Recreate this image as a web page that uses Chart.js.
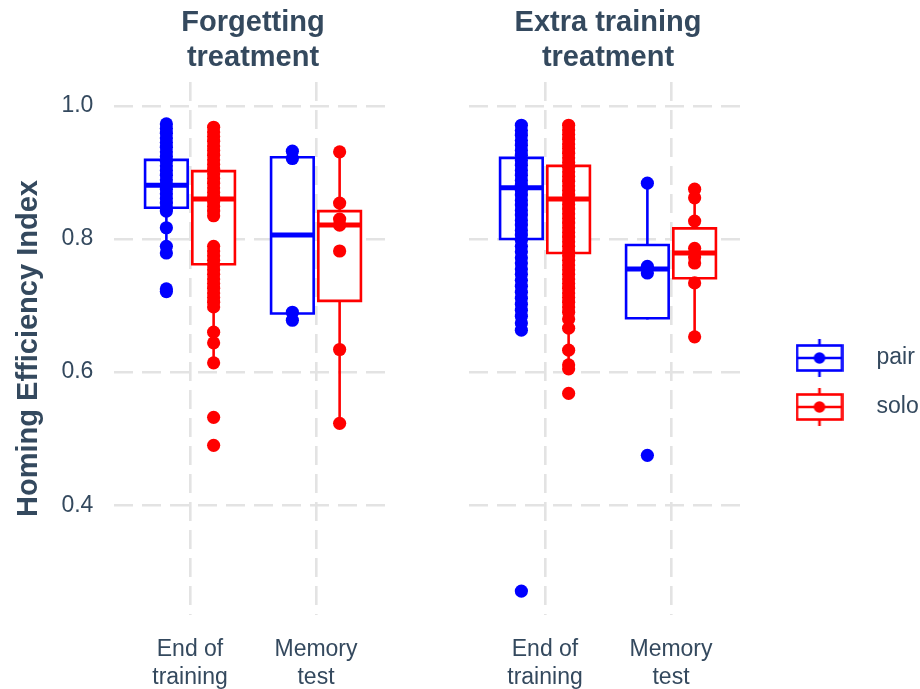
<!DOCTYPE html>
<html>
<head>
<meta charset="utf-8">
<title>Homing Efficiency Index</title>
<script src="https://cdn.jsdelivr.net/npm/chart.js@4.4.1/dist/chart.umd.min.js"></script>
<style>
  html, body { margin: 0; padding: 0; background: #fff; overflow: hidden; }
  #wrap { position: relative; width: 920px; height: 689px; }
  #wrap canvas { position: absolute; }
</style>
</head>
<body>
<div id="wrap">
  <canvas id="chartForget" width="400" height="689" style="left:0;top:0"></canvas>
  <canvas id="chartExtra" width="360" height="689" style="left:400px;top:0"></canvas>
  <canvas id="chartLegend" width="172" height="171" style="left:748px;top:297px"></canvas>
</div>
<script>
// Datos
const panelTitles = [['Forgetting', 'treatment'], ['Extra training', 'treatment']];
const timepoints = [['End of', 'training'], ['Memory', 'test']];
const groups = ['pair', 'solo'];
const yTicks = [0.4, 0.6, 0.8, 1.0];

// [bigote inferior, Q1, mediana, Q3, bigote superior] -> End of training, Memory test
const forgetPairBox = [[0.779, 0.847, 0.881, 0.919, 0.973], [0.678, 0.688, 0.806, 0.923, 0.932]];
const forgetSoloBox = [[0.614, 0.762, 0.860, 0.902, 0.968], [0.523, 0.707, 0.821, 0.842, 0.931]];
const extraPairBox  = [[0.663, 0.800, 0.877, 0.922, 0.971], [0.749, 0.681, 0.755, 0.791, 0.884]];
const extraSoloBox  = [[0.603, 0.779, 0.860, 0.910, 0.971], [0.653, 0.741, 0.779, 0.816, 0.875]];

// puntos individuales
const forgetPairEnd = [0.973, 0.966, 0.959, 0.952, 0.945, 0.938, 0.931, 0.924, 0.917, 0.910, 0.903, 0.896,
  0.889, 0.882, 0.875, 0.868, 0.861, 0.854, 0.847, 0.842, 0.817, 0.789, 0.779, 0.725, 0.721];
const forgetPairMem = [0.932, 0.921, 0.690, 0.678];
const forgetSoloEnd = [0.968, 0.961, 0.954, 0.947, 0.940, 0.933, 0.926, 0.919, 0.912, 0.905, 0.898, 0.891,
  0.884, 0.877, 0.870, 0.863, 0.856, 0.849, 0.842, 0.835, 0.789, 0.782, 0.775, 0.768, 0.761, 0.754, 0.747,
  0.740, 0.733, 0.726, 0.719, 0.712, 0.705, 0.698, 0.660, 0.644, 0.614, 0.532, 0.490];
const forgetSoloMem = [0.931, 0.854, 0.830, 0.821, 0.782, 0.634, 0.523];
const extraPairEnd = [0.971, 0.963, 0.956, 0.948, 0.941, 0.933, 0.926, 0.918, 0.911, 0.903, 0.896, 0.888,
  0.881, 0.873, 0.866, 0.858, 0.851, 0.843, 0.836, 0.828, 0.821, 0.813, 0.806, 0.798, 0.789, 0.781, 0.772,
  0.764, 0.755, 0.747, 0.738, 0.729, 0.720, 0.711, 0.702, 0.693, 0.684, 0.674, 0.663, 0.271];
const extraPairMem = [0.884, 0.759, 0.749, 0.475];
const extraSoloEnd = [0.971, 0.964, 0.957, 0.950, 0.943, 0.936, 0.929, 0.922, 0.915, 0.908, 0.901, 0.894,
  0.887, 0.880, 0.873, 0.866, 0.859, 0.852, 0.845, 0.838, 0.831, 0.824, 0.817, 0.810, 0.803, 0.796, 0.789,
  0.782, 0.775, 0.768, 0.761, 0.754, 0.747, 0.740, 0.733, 0.726, 0.719, 0.712, 0.705, 0.698, 0.690, 0.680,
  0.666, 0.633, 0.611, 0.605, 0.568];
const extraSoloMem = [0.875, 0.862, 0.827, 0.786, 0.773, 0.764, 0.734, 0.653];

const groupColors = ['#0000ff', '#ff0000'];
const textColor = '#34495e';
const gridColor = '#e3e3e3';
const dodge = 0.1875;
const halfBox = 0.169;

Chart.defaults.font.family = '"Liberation Sans", Arial, sans-serif';
Chart.defaults.color = textColor;

function lineSet(points, color, width, order) {
  return {
    data: points,
    showLine: true,
    borderColor: color,
    borderWidth: width,
    borderCapStyle: 'square',
    borderJoinStyle: 'miter',
    pointRadius: 0,
    pointHoverRadius: 0,
    fill: false,
    order: order
  };
}

// cajas, bigotes, medianas y puntos de un grupo
function groupDatasets(boxes, points, g) {
  const color = groupColors[g];
  const out = [];
  boxes.forEach((b, t) => {
    const cx = t + 1 + (g === 0 ? -dodge : dodge);
    const [lo, q1, med, q3, hi] = b;
    const l = cx - halfBox, r = cx + halfBox;
    out.push(lineSet([{x: cx, y: lo}, {x: cx, y: q1}], color, 2.6, 4));
    out.push(lineSet([{x: cx, y: q3}, {x: cx, y: hi}], color, 2.6, 4));
    const box = lineSet([{x: l, y: q1}, {x: r, y: q1}, {x: r, y: q3}, {x: l, y: q3}, {x: l, y: q1}], color, 2.6, 3);
    box.fill = 'shape';
    box.backgroundColor = '#ffffff';
    out.push(box);
    const medLine = lineSet([{x: l, y: med}, {x: r, y: med}], color, 5, 2);
    medLine.borderCapStyle = 'butt';
    out.push(medLine);
    out.push({
      data: points[t].map(v => ({x: cx, y: v})),
      showLine: false,
      pointRadius: 6.6,
      pointHoverRadius: 6.6,
      pointBorderWidth: 0,
      pointBackgroundColor: color,
      borderColor: color,
      order: 0
    });
  });
  return out;
}

function panelChart(id, title, pairBox, pairPts, soloBox, soloPts, withYAxis) {
  const ctx = document.getElementById(id).getContext('2d');
  return new Chart(ctx, {
    type: 'line',
    data: {
      datasets: groupDatasets(pairBox, pairPts, 0).concat(groupDatasets(soloBox, soloPts, 1))
    },
    options: {
      responsive: false,
      animation: false,
      events: [],
      layout: {
        padding: withYAxis ? {left: 0, right: 8.4, top: 0, bottom: 0}
                           : {left: 69.4, right: 13.4, top: 0, bottom: 0}
      },
      plugins: {
        legend: {display: false},
        tooltip: {enabled: false},
        title: {
          display: true,
          text: title,
          fullSize: false,
          color: textColor,
          font: {size: 29, weight: 'bold', lineHeight: 1.2},
          padding: {top: 6, bottom: 6.4}
        }
      },
      scales: {
        x: {
          type: 'linear',
          min: 0.4,
          max: 2.6,
          afterBuildTicks: s => { s.ticks = timepoints.map((_, i) => ({value: i + 1})); },
          afterFit: s => { s.height = 74; },
          ticks: {
            callback: v => timepoints[v - 1],
            color: textColor,
            font: {size: 23, lineHeight: 1.22},
            padding: 21,
            maxRotation: 0,
            autoSkip: false
          },
          grid: {color: gridColor, lineWidth: 2.6, drawTicks: false},
          border: {display: false, dash: [19, 9]}
        },
        y: {
          type: 'linear',
          min: 0.235,
          max: 1.036,
          afterBuildTicks: s => { s.ticks = yTicks.map(v => ({value: v})); },
          afterFit: s => { s.width = withYAxis ? 114.4 : 0; },
          ticks: {
            display: withYAxis,
            callback: v => v.toFixed(1),
            color: textColor,
            font: {size: 23},
            padding: 21
          },
          title: {
            display: withYAxis,
            text: 'Homing Efficiency Index',
            color: textColor,
            font: {size: 29, weight: 'bold', lineHeight: 1.2},
            padding: {top: 11.5, bottom: 0}
          },
          grid: {color: gridColor, lineWidth: 2.6, drawTicks: false},
          border: {display: false, dash: [19, 9]}
        }
      }
    }
  });
}

// icono de la leyenda: caja con bigotes y punto
function keyIcon(color) {
  const c = document.createElement('canvas');
  c.width = 48;
  c.height = 40;
  const k = c.getContext('2d');
  k.strokeStyle = color;
  k.lineWidth = 2.6;
  k.beginPath(); k.moveTo(24, 1); k.lineTo(24, 39); k.stroke();
  k.fillStyle = '#ffffff';
  k.fillRect(1.5, 7.5, 45, 25);
  k.strokeRect(1.5, 7.5, 45, 25);
  k.beginPath(); k.moveTo(1.5, 20); k.lineTo(46.5, 20); k.stroke();
  k.fillStyle = color;
  k.beginPath(); k.arc(24, 20, 5.8, 0, Math.PI * 2); k.fill();
  return c;
}

function legendChart() {
  const icons = groupColors.map(keyIcon);
  const ctx = document.getElementById('chartLegend').getContext('2d');
  return new Chart(ctx, {
    type: 'line',
    data: {datasets: groups.map(g => ({label: g, data: []}))},
    options: {
      responsive: false,
      animation: false,
      events: [],
      scales: {x: {display: false}, y: {display: false}},
      plugins: {
        tooltip: {enabled: false},
        legend: {
          display: true,
          position: 'left',
          align: 'center',
          maxWidth: 400,
          labels: {
            usePointStyle: true,
            pointStyleWidth: 91,
            padding: 26,
            color: textColor,
            font: {size: 23},
            generateLabels: () => groups.map((g, i) => ({
              text: g,
              pointStyle: icons[i],
              fillStyle: groupColors[i],
              strokeStyle: groupColors[i],
              lineWidth: 0,
              hidden: false,
              datasetIndex: i,
              fontColor: textColor
            }))
          }
        }
      }
    }
  });
}

document.addEventListener('DOMContentLoaded', () => {
  panelChart('chartForget', panelTitles[0], forgetPairBox, [forgetPairEnd, forgetPairMem],
             forgetSoloBox, [forgetSoloEnd, forgetSoloMem], true);
  panelChart('chartExtra', panelTitles[1], extraPairBox, [extraPairEnd, extraPairMem],
             extraSoloBox, [extraSoloEnd, extraSoloMem], false);
  legendChart();
});
</script>
</body>
</html>
